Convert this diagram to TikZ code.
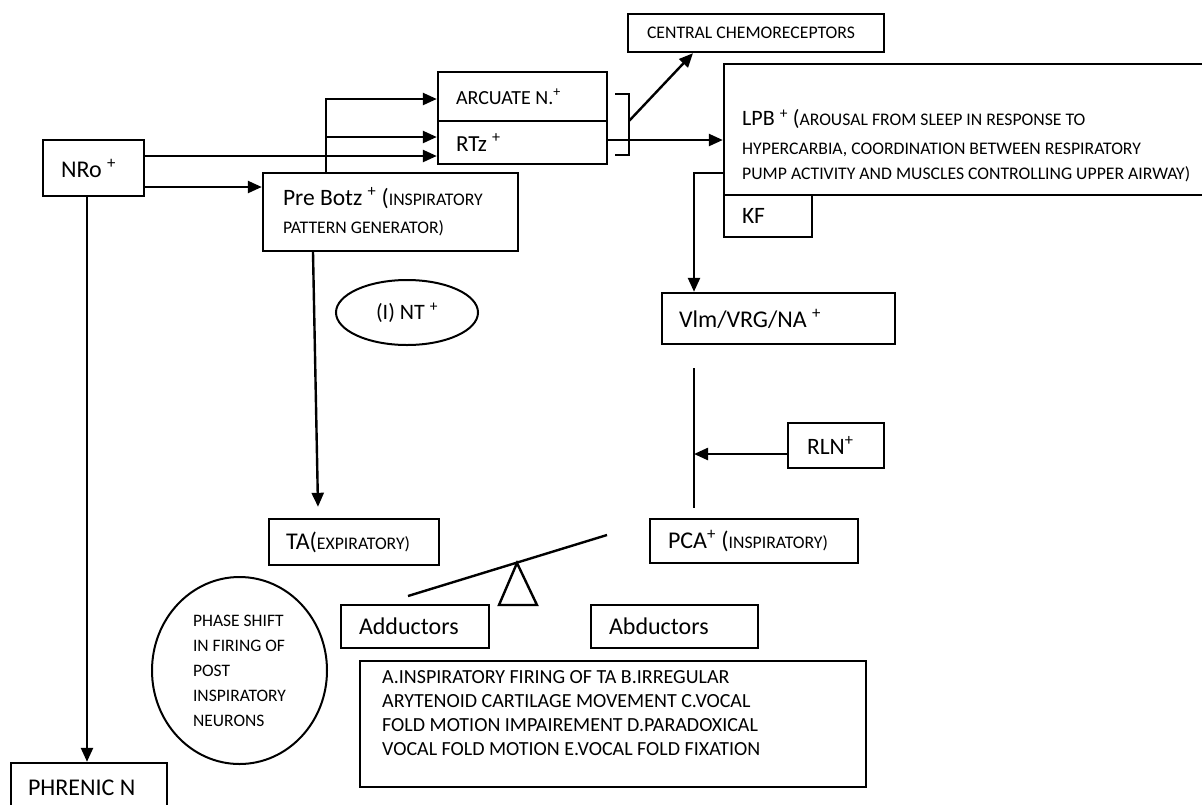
\documentclass[tikz,border=0pt]{standalone}
\usepackage{fontspec}
\setmainfont{Carlito}
\usetikzlibrary{arrows.meta,shapes.geometric,calc}
\newcommand\smc[1]{{\fontsize{17.7}{21}\selectfont #1}}
\newcommand\sps{\textsuperscript{+}}
\begin{document}
\begin{tikzpicture}[x=1pt,y=-1pt,
  box/.style={draw, line width=2.4pt, rectangle, inner ysep=0pt, align=left,
    execute at begin node={\spaceskip=0pt\xspaceskip=0pt\relax}},
  arr/.style={line width=2.4pt, -{Triangle[length=14pt,width=12pt]}},
  ln/.style={line width=2.4pt},
  oval/.style={draw, ellipse, line width=2pt, inner sep=0pt},
  fbig/.style={font=\fontsize{24}{29}\selectfont}
]
\fill[white] (0,0) rectangle (1202,804);
\useasboundingbox (0,0) rectangle (1202,804);

% boxes
\node[box, fbig, minimum width=101pt, minimum height=56pt, text width=65pt, inner xsep=18pt] (nro) at (93.5,168) {\mbox{NRo \sps}};
\node[box, font=\fontsize{23.5}{28}\selectfont, minimum width=255pt, minimum height=78pt, text width=215pt, inner xsep=20pt] (prebotz) at (390.5,212) {\mbox{Pre Botz \sps\ (\smc{INSPIRATORY}}\\\mbox{\smc{PATTERN GENERATOR)}}};
\node[box, font=\fontsize{20}{24}\selectfont, minimum width=169pt, minimum height=49pt, text width=133pt, inner xsep=18pt] (arcuate) at (522.5,96.5) {\mbox{ARCUATE N.\sps}};
\node[box, font=\fontsize{23}{27}\selectfont, minimum width=169pt, minimum height=43pt, text width=133pt, inner xsep=18pt] (rtz) at (522.5,142.5) {\mbox{RTz \sps}};
\node[box, font=\fontsize{17.7}{21}\selectfont, minimum width=256pt, minimum height=38pt, text width=218pt, inner xsep=19pt] (central) at (756,33) {\mbox{CENTRAL CHEMORECEPTORS}};
\node[box, minimum width=482pt, minimum height=131pt] (lpb) at (965,129.5) {};
\node[anchor=north west, inner sep=0pt, align=left, font=\fontsize{17.7}{25}\selectfont] (lpbtext) at (742,109.5) {{\fontsize{22}{25}\selectfont LPB \sps\ (}AROUSAL FROM SLEEP IN RESPONSE TO\\[4pt]HYPERCARBIA, COORDINATION BETWEEN RESPIRATORY\\PUMP ACTIVITY AND MUSCLES CONTROLLING UPPER AIRWAY)};
\node[box, font=\fontsize{23.5}{28}\selectfont, minimum width=88pt, minimum height=42pt, text width=52pt, inner xsep=18pt] (kf) at (768,216) {\mbox{KF}};
\node[box, fbig, minimum width=233pt, minimum height=51pt, text width=199pt, inner xsep=17pt] (vlm) at (778.5,318.5) {\mbox{Vlm/VRG/NA \sps}};
\node[box, font=\fontsize{23.5}{28}\selectfont, minimum width=96pt, minimum height=45pt, text width=58pt, inner xsep=19pt] (rln) at (836,445.5) {\mbox{RLN\sps}};
\node[box, fbig, minimum width=170pt, minimum height=46pt, text width=136pt, inner xsep=17pt] (ta) at (354,542) {\mbox{TA(\smc{EXPIRATORY)}}};
\node[box, fbig, minimum width=208pt, minimum height=44pt, text width=172pt, inner xsep=18pt] (pca) at (754,541) {\mbox{PCA\sps\ (\smc{INSPIRATORY)}}};
\node[box, fbig, minimum width=148pt, minimum height=43pt, text width=112pt, inner xsep=18pt] (add) at (415,626.5) {\mbox{Adductors}};
\node[box, fbig, minimum width=167pt, minimum height=43pt, text width=131pt, inner xsep=18pt] (abd) at (674.5,626.5) {\mbox{Abductors}};
\node[box, minimum width=506pt, minimum height=126pt] (effects) at (613,724) {};
\node[anchor=north west, inner sep=0pt, align=left, font=\fontsize{20}{24}\selectfont] (effectstext) at (382,670) {A.INSPIRATORY FIRING OF TA B.IRREGULAR\\ARYTENOID CARTILAGE MOVEMENT C.VOCAL\\FOLD MOTION IMPAIREMENT D.PARADOXICAL\\VOCAL FOLD MOTION E.VOCAL FOLD FIXATION};
\node[box, fbig, minimum width=156pt, minimum height=50pt, text width=122pt, inner xsep=17pt] (phrenic) at (89,788) {\mbox{PHRENIC N}};

% ovals
\node[oval, minimum width=142pt, minimum height=65pt, font=\fontsize{22}{26}\selectfont] (nt) at (407,312.5) {(I) NT \sps};
\node[oval, minimum width=175pt, minimum height=187pt, align=left, font=\fontsize{17.5}{25}\selectfont] (phase) at (239.5,670.5) {PHASE SHIFT\\IN FIRING OF\\POST\\INSPIRATORY\\NEURONS};

% connectors
\draw[arr] (nro.east |- 0,156) -- (rtz.west |- 0,156);
\draw[arr] (nro.east |- 0,187) -- (prebotz.west |- 0,187);
\draw[arr] (prebotz.north -| 326,0) |- (arcuate.west |- 0,99);
\coordinate (j1) at (326,137);
\draw[arr] (j1) -- (rtz.west |- j1);
\coordinate (b1) at (615,94);
\coordinate (b2) at (629,94);
\coordinate (b3) at (629,155);
\coordinate (b4) at (615,155);
\draw[ln] (b1) -- (b2) -- (b3) -- (b4);
\coordinate (bm) at (629,121);
\draw[arr] (bm) -- (central.south -| 693,0);
\draw[arr] (rtz.east |- 0,140) -- (lpb.west |- 0,140);
\draw[arr] (lpb.west |- 0,173) -| (vlm.north -| 694,0);
\coordinate (v1) at (694,368);
\coordinate (v2) at (694,508);
\draw[ln] (v1) -- (v2);
\draw[arr] (rln.west |- 0,454) -- (v1 |- 0,454);
\draw[arr] (prebotz.south -| 313,0) -- ($(ta.north -| 318,0)+(0,-11)$);
\draw[arr] (nro.south -| 87,0) -- (phrenic.north -| 87,0);

% seesaw
\coordinate (s1) at (408,596);
\coordinate (s2) at (607,535);
\draw[ln] (s1) -- (s2);
\coordinate (t1) at (517,563);
\coordinate (t2) at (499,605);
\coordinate (t3) at (537,605);
\draw[ln] (t1) -- (t2) -- (t3) -- cycle;
\end{tikzpicture}
\end{document}
